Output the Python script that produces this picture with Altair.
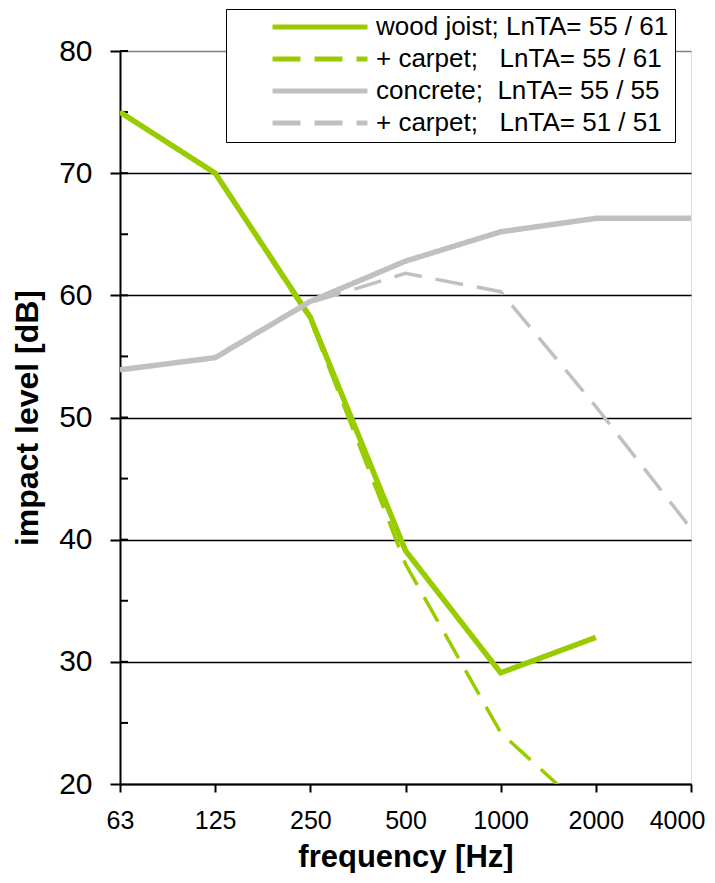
import altair as alt
import pandas as pd

# ---- data ----
freqs = ["63", "125", "250", "500", "1000", "2000", "4000"]
series_names = [
    "wood joist; LnTA= 55 / 61\u00a0\u00a0",
    "+ carpet;\u00a0\u00a0\u00a0LnTA= 55 / 61",
    "concrete;\u00a0\u00a0LnTA= 55 / 55",
    "+ carpet;\u00a0\u00a0\u00a0LnTA= 51 / 51",
]
wood_joist = [75.0, 70.0, 58.2, 39.1, 29.1, 32.0, None]
wood_carpet = [75.0, 70.0, 58.0, 38.0, 24.2, 17.1, None]
concrete = [53.9, 54.9, 59.5, 62.8, 65.2, 66.3, 66.3]
concrete_carpet = [53.9, 54.9, 59.4, 61.8, 60.3, 50.9, 40.9]
y_ticks = [20, 30, 40, 50, 60, 70, 80]
inner_ticks = [25, 30, 35, 40, 45, 50, 55, 60, 65, 70, 75, 80]

colors = ["#99CC00", "#99CC00", "#C0C0C0", "#C0C0C0"]
dashes = [[1, 0], [28, 14], [1, 0], [28, 14]]
widths = [5.5, 3.5, 5.5, 3.5]

rows = []
for i, (name, vals) in enumerate(zip(series_names, [wood_joist, wood_carpet, concrete, concrete_carpet])):
    for f, v in zip(freqs, vals):
        if v is not None:
            rows.append({"freq": f, "level": v, "series": name, "sid": i})
df = pd.DataFrame(rows)
ticks_df = pd.DataFrame({"v": inner_ticks})

FONT = "Liberation Sans"

x_enc = alt.X(
    "freq:O",
    sort=freqs,
    scale=alt.Scale(type="point", padding=0, domain=freqs),
    axis=alt.Axis(
        title="frequency [Hz]",
        labelAngle=0,
        labelFontSize=25,
        labelFont=FONT,
        labelColor="black",
        labelPadding=16,
        labelOffset={"condition": {"test": "datum.value === '4000'", "value": -14}, "value": 0},
        tickSize=8,
        tickColor="black",
        tickWidth=2,
        domainColor="black",
        domainWidth=2,
        titleFont=FONT,
        titleFontSize=31,
        titleFontWeight="bold",
        titleColor="black",
        titlePadding=9,
        grid=False,
    ),
)

y_scale = alt.Scale(domain=[20, 80], nice=False, zero=False)

y_enc = alt.Y(
    "level:Q",
    scale=y_scale,
    axis=alt.Axis(
        title="impact level [dB]",
        values=y_ticks,
        labelFontSize=30,
        labelFont=FONT,
        labelColor="black",
        labelPadding=18,
        tickSize=10,
        tickColor="black",
        tickWidth=2,
        domainColor="black",
        domainWidth=2,
        grid=True,
        gridColor={"condition": {"test": "datum.value === 80", "value": "#808080"}, "value": "black"},
        gridWidth=1.6,
        titleFont=FONT,
        titleFontSize=32,
        titleFontWeight="bold",
        titleColor="black",
        titlePadding=14,
    ),
)

legend = alt.Legend(
    title=None,
    orient="none",
    legendX=106,
    legendY=-42,
    symbolType="stroke",
    symbolSize=9025,
    symbolStrokeWidth=5,
    labelFont=FONT,
    labelFontSize=26,
    labelColor="black",
    labelOffset=6,
    labelLimit=600,
    clipHeight=24,
    rowPadding=6,
    padding=6,
    strokeColor="black",
    fillColor="white",
    symbolOffset=38,
)

color_enc = alt.Color(
    "series:N",
    sort=series_names,
    scale=alt.Scale(domain=series_names, range=colors),
    legend=legend,
)
dash_enc = alt.StrokeDash(
    "series:N",
    sort=series_names,
    scale=alt.Scale(domain=series_names, range=dashes),
    legend=legend,
)

layers = []
inner = alt.Chart(ticks_df).mark_rule(color="black", strokeWidth=2).encode(
    y=alt.Y("v:Q", scale=y_scale),
    x=alt.value(0),
    x2=alt.value(8),
)
layers.append(inner)
for i, name in enumerate(series_names):
    layers.append(
        alt.Chart(df)
        .transform_filter(alt.datum.sid == i)
        .mark_line(clip=True, strokeJoin="miter", strokeCap="butt", strokeWidth=widths[i])
        .encode(x=x_enc, y=y_enc, color=color_enc, strokeDash=dash_enc)
    )

chart = (
    alt.layer(*layers)
    .properties(
        width=571,
        height=733,
        autosize=alt.AutoSizeParams(type="none"),
        padding={"left": 112, "top": 43, "right": 16, "bottom": 89},
    )
    .configure_view(stroke="#808080", strokeWidth=2)
    .configure(background="white")
)

chart.save("out.html", embed_options={"renderer": "svg", "actions": False})
